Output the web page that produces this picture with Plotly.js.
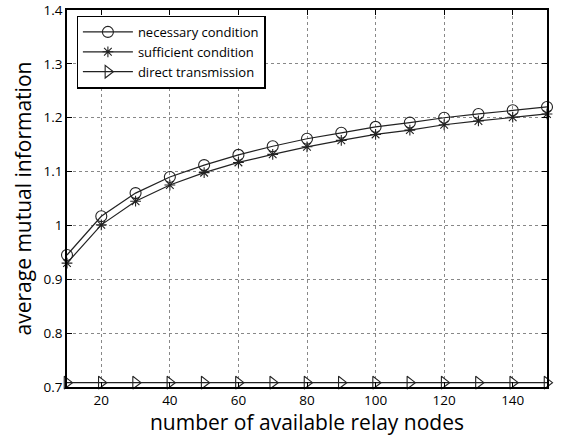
<!DOCTYPE html>
<html>
<head>
<meta charset="utf-8">
<script src="https://cdn.plot.ly/plotly-3.0.1.min.js"></script>
<style>html,body{margin:0;padding:0;background:#fff;}#chart{width:570px;height:436px;}</style>
</head>
<body>
<div id="chart"></div>
<script>
const relayNodes = [10,20,30,40,50,60,70,80,90,100,110,120,130,140,150];
const necessary = [0.945,1.017,1.060,1.090,1.112,1.131,1.147,1.161,1.172,1.183,1.191,1.200,1.207,1.214,1.220];
const sufficient = [0.930,1.001,1.045,1.075,1.098,1.117,1.132,1.146,1.158,1.169,1.177,1.187,1.194,1.201,1.207];
const direct = [0.708,0.708,0.708,0.708,0.708,0.708,0.708,0.708,0.708,0.708,0.708,0.708,0.708,0.708,0.708];
const yTickVals = [0.7,0.8,0.9,1.0,1.1,1.2,1.3,1.4];
const yTickText = ['0.7','0.8','0.9','1','1.1','1.2','1.3','1.4'];
const xTickVals = [20,40,60,80,100,120,140];

const fontFam = '"Open Sans", "DejaVu Sans", sans-serif';
const line = {color:'#222', width:1.2};
const traces = [
  {x:relayNodes, y:necessary, name:'necessary condition', mode:'lines+markers', line:line, cliponaxis:false,
   marker:{symbol:'circle-open', size:11, color:'#222', line:{width:1.1}}},
  {x:relayNodes, y:sufficient, name:'sufficient condition', mode:'lines+markers', line:line, cliponaxis:false,
   marker:{symbol:'asterisk-open', size:9, color:'#222', line:{width:1.1}}},
  {x:relayNodes, y:direct, name:'direct transmission', mode:'lines+markers', line:line, cliponaxis:false,
   marker:{symbol:'triangle-right-open', size:11, color:'#222', line:{width:1.1}}}
];
const axisCommon = {
  showline:true, mirror:'ticks', linecolor:'#000', linewidth:1.5,
  ticks:'inside', ticklen:5, tickcolor:'#000', tickwidth:1,
  showgrid:true, gridcolor:'#888', griddash:'dot', gridwidth:1,
  zeroline:false, tickfont:{family:fontFam, size:13.5, color:'#000'},
  ticklabeloverflow:'allow'
};
const layout = {
  width:570, height:436,
  margin:{l:67, r:23, t:10, b:49},
  paper_bgcolor:'#fff', plot_bgcolor:'#fff',
  showlegend:true,
  legend:{x:0.02, y:0.985, xanchor:'left', yanchor:'top', bgcolor:'#fff',
          bordercolor:'#000', borderwidth:1.3, font:{family:fontFam, size:13, color:'#000'},
          tracegroupgap:0, itemwidth:50},
  xaxis:Object.assign({}, axisCommon, {range:[10,150], tickvals:xTickVals,
          title:{text:'number of available relay nodes', font:{family:fontFam, size:21, color:'#000'}, standoff:3}}),
  yaxis:Object.assign({}, axisCommon, {range:[0.6999,1.4001], tickvals:yTickVals, ticktext:yTickText,
          title:{text:'average mutual information', font:{family:fontFam, size:21, color:'#000'}, standoff:6}})
};
Plotly.newPlot('chart', traces, layout, {displayModeBar:false});
</script>
</body>
</html>
